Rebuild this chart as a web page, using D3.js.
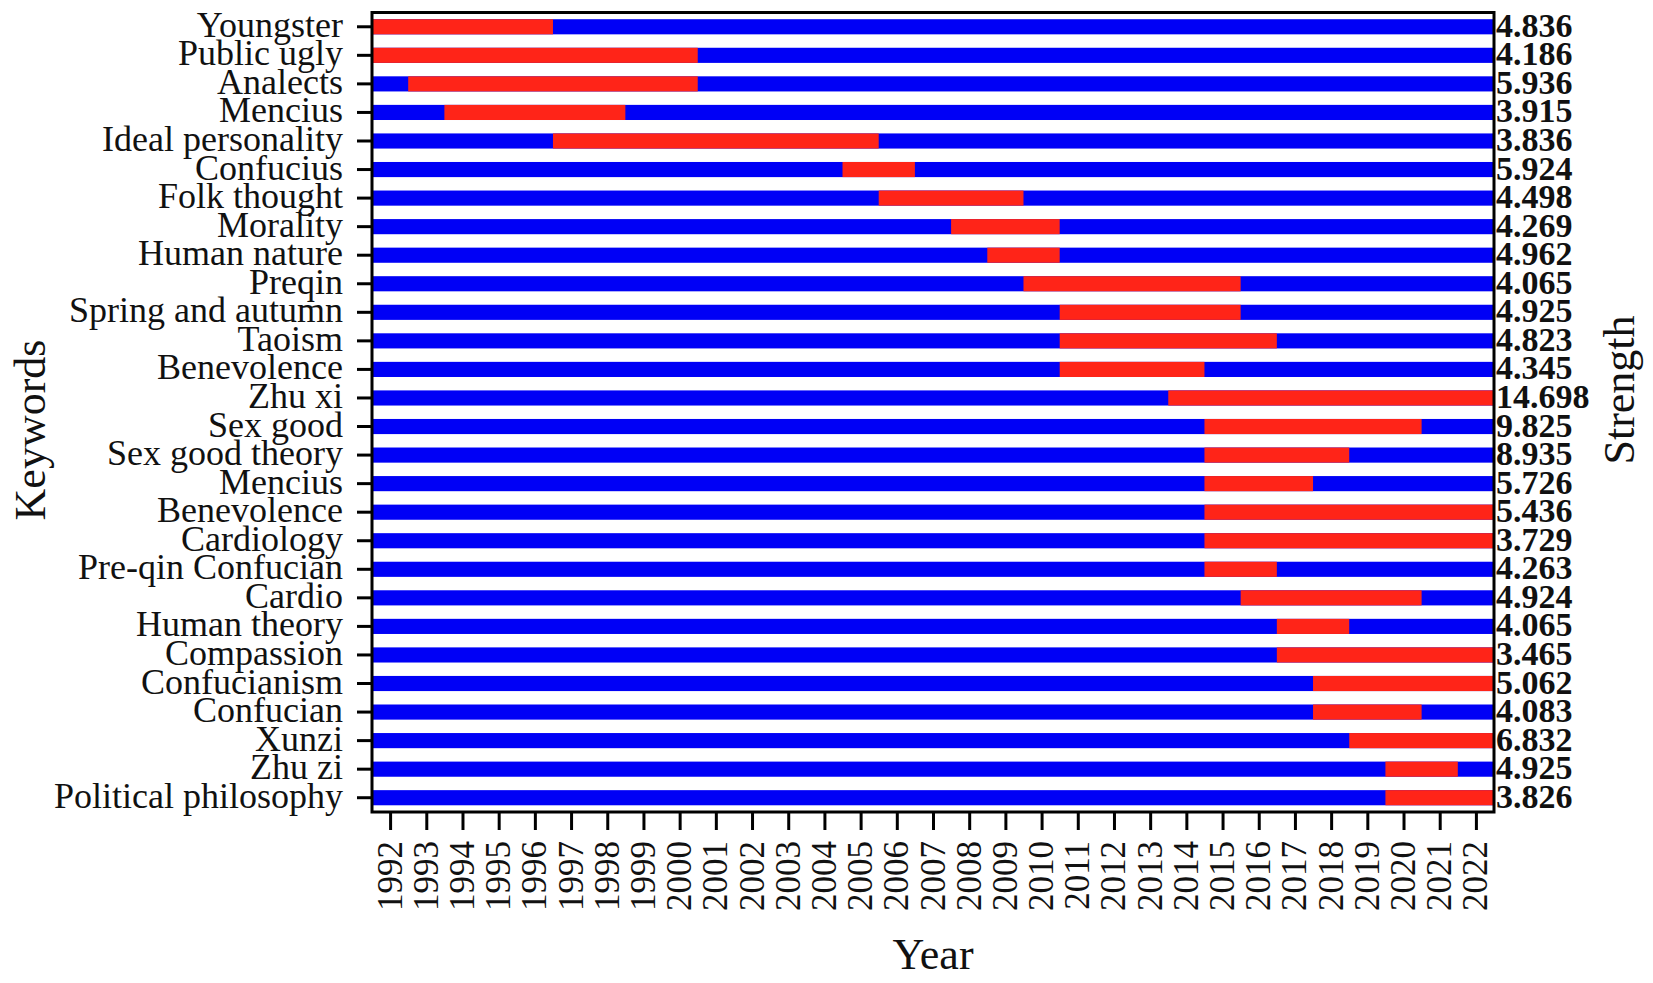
<!DOCTYPE html>
<html>
<head>
<meta charset="utf-8">
<script src="https://cdn.jsdelivr.net/npm/d3@7"></script>
<style>
  html, body { margin: 0; padding: 0; background: #ffffff; }
  svg { display: block; }
  text { font-family: "Liberation Serif", "Times New Roman", serif; fill: #111; }
</style>
</head>
<body>
<svg id="chart" width="1653" height="983"></svg>
<script>
// ---------- data ----------
const keywords = [
  "Youngster", "Public ugly", "Analects", "Mencius", "Ideal personality",
  "Confucius", "Folk thought", "Morality", "Human nature", "Preqin",
  "Spring and autumn", "Taoism", "Benevolence", "Zhu xi", "Sex good",
  "Sex good theory", "Mencius", "Benevolence", "Cardiology", "Pre-qin Confucian",
  "Cardio", "Human theory", "Compassion", "Confucianism", "Confucian",
  "Xunzi", "Zhu zi", "Political philosophy"
];
const strengths = [
  "4.836", "4.186", "5.936", "3.915", "3.836",
  "5.924", "4.498", "4.269", "4.962", "4.065",
  "4.925", "4.823", "4.345", "14.698", "9.825",
  "8.935", "5.726", "5.436", "3.729", "4.263",
  "4.924", "4.065", "3.465", "5.062", "4.083",
  "6.832", "4.925", "3.826"
];
const burstBegin = [
  1992, 1992, 1993, 1994, 1997,
  2005, 2006, 2008, 2009, 2010,
  2011, 2011, 2011, 2014, 2015,
  2015, 2015, 2015, 2015, 2015,
  2016, 2017, 2017, 2018, 2018,
  2019, 2020, 2020
];
const burstEnd = [
  1996, 2000, 2000, 1998, 2005,
  2006, 2009, 2010, 2010, 2015,
  2015, 2016, 2014, 2022, 2020,
  2018, 2017, 2022, 2022, 2016,
  2020, 2018, 2022, 2022, 2020,
  2022, 2021, 2022
];
const yearTicks = [
  1992, 1993, 1994, 1995, 1996, 1997, 1998, 1999, 2000, 2001,
  2002, 2003, 2004, 2005, 2006, 2007, 2008, 2009, 2010, 2011,
  2012, 2013, 2014, 2015, 2016, 2017, 2018, 2019, 2020, 2021, 2022
];
const firstYear = 1992, lastYear = 2022;

// ---------- layout ----------
const plot = { left: 372, right: 1494, top: 12.5, bottom: 812 };
const BLUE = "#0000f6", RED = "#ff2418";

const svg = d3.select("#chart");

const x = d3.scaleLinear()
  .domain([firstYear - 0.5, lastYear + 0.5])
  .range([plot.left, plot.right]);

const y = d3.scaleBand()
  .domain(d3.range(keywords.length))
  .range([plot.top, plot.bottom])
  .paddingInner(0.47)
  .paddingOuter(0.235);

const rows = keywords.map((k, i) => ({ i, k, s: strengths[i], b: burstBegin[i], e: burstEnd[i] }));

// full-span blue bars
svg.append("g").selectAll("rect.base").data(rows).join("rect")
  .attr("class", "base")
  .attr("x", x(firstYear - 0.5))
  .attr("width", x(lastYear + 0.5) - x(firstYear - 0.5))
  .attr("y", d => y(d.i))
  .attr("height", y.bandwidth())
  .attr("fill", BLUE);

// red burst segments
svg.append("g").selectAll("rect.burst").data(rows).join("rect")
  .attr("class", "burst")
  .attr("x", d => x(d.b - 0.5))
  .attr("width", d => x(d.e + 0.5) - x(d.b - 0.5))
  .attr("y", d => y(d.i))
  .attr("height", y.bandwidth())
  .attr("fill", RED);

// frame
svg.append("rect")
  .attr("x", plot.left).attr("y", plot.top)
  .attr("width", plot.right - plot.left).attr("height", plot.bottom - plot.top)
  .attr("fill", "none").attr("stroke", "#000").attr("stroke-width", 3);

// left axis (keywords)
const yAxis = d3.axisLeft(y)
  .tickSize(15)
  .tickPadding(14)
  .tickFormat(i => keywords[i]);
const gy = svg.append("g")
  .attr("transform", `translate(${plot.left},0)`)
  .call(yAxis);
gy.select(".domain").remove();
gy.selectAll(".tick line").attr("stroke", "#000").attr("stroke-width", 3);
gy.selectAll(".tick text")
  .attr("font-family", "Liberation Serif, Times New Roman, serif")
  .attr("font-size", 36)
  .attr("fill", "#111")
  .attr("dy", null)
  .attr("dominant-baseline", "auto")
  .attr("y", 10);

// bottom axis (years)
const xAxis = d3.axisBottom(x)
  .tickValues(yearTicks)
  .tickSize(18)
  .tickFormat(d3.format("d"));
const gx = svg.append("g")
  .attr("transform", `translate(0,${plot.bottom})`)
  .call(xAxis);
gx.select(".domain").remove();
gx.selectAll(".tick line").attr("stroke", "#000").attr("stroke-width", 3);
gx.selectAll(".tick text")
  .attr("font-family", "Liberation Serif, Times New Roman, serif")
  .attr("font-size", 35)
  .attr("fill", "#111")
  .attr("text-anchor", "end")
  .attr("dy", null)
  .attr("y", 0)
  .attr("transform", "translate(11,29) rotate(-90)");

// strength values on the right
svg.append("g").selectAll("text.val").data(rows).join("text")
  .attr("class", "val")
  .attr("x", plot.right + 2)
  .attr("y", d => y(d.i) + y.bandwidth() / 2 + 10)
  .attr("font-size", 34)
  .attr("font-weight", "bold")
  .text(d => d.s);

// axis titles
svg.append("text")
  .attr("transform", `translate(45,430) rotate(-90)`)
  .attr("text-anchor", "middle")
  .attr("font-size", 44)
  .text("Keywords");

svg.append("text")
  .attr("x", (plot.left + plot.right) / 2)
  .attr("y", 969)
  .attr("text-anchor", "middle")
  .attr("font-size", 44)
  .text("Year");

svg.append("text")
  .attr("transform", `translate(1634,390) rotate(-90)`)
  .attr("text-anchor", "middle")
  .attr("font-size", 44)
  .text("Strength");
</script>
</body>
</html>
